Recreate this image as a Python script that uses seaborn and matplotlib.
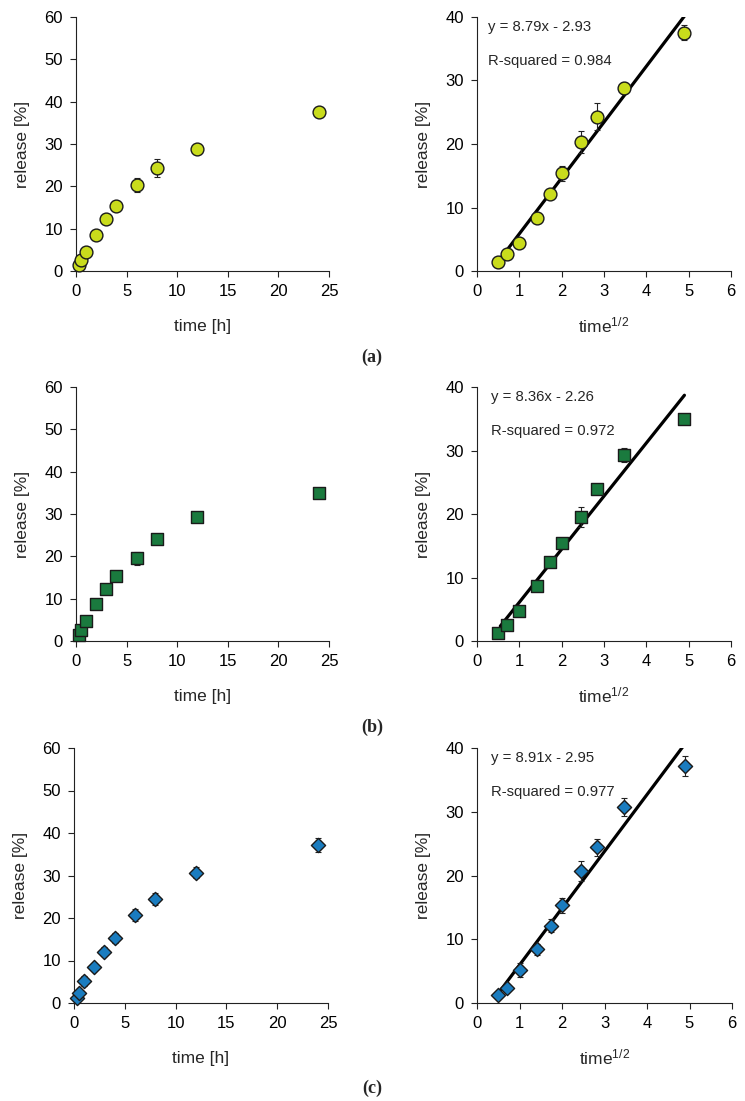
import numpy as np
import pandas as pd
import matplotlib
matplotlib.use("Agg")
import matplotlib.pyplot as plt
import seaborn as sns

sns.set_theme(style="ticks")
plt.rcParams['font.family'] = ['Liberation Sans', 'DejaVu Sans']
plt.rcParams['mathtext.fontset'] = 'custom'
plt.rcParams['mathtext.rm'] = 'Liberation Sans'
plt.rcParams['mathtext.it'] = 'Liberation Sans'

# ---- data ----
time_h = [0.25, 0.5, 1, 2, 3, 4, 6, 8, 12, 24]

release_a = [1.4, 2.6, 4.4, 8.4, 12.2, 15.4, 20.3, 24.3, 28.8, 37.5]
err_a = [0.3, 0.4, 0.6, 0.5, 0.5, 1.2, 1.7, 2.1, 1.0, 1.2]

release_b = [1.3, 2.5, 4.8, 8.7, 12.4, 15.4, 19.5, 24.0, 29.3, 35.0]
err_b = [0.3, 0.3, 0.4, 0.4, 0.4, 0.4, 1.6, 0.6, 1.1, 0.3]

release_c = [1.2, 2.3, 5.2, 8.4, 12.1, 15.3, 20.7, 24.4, 30.7, 37.2]
err_c = [0.3, 0.4, 1.1, 0.8, 1.0, 1.2, 1.5, 1.4, 1.4, 1.6]

slopes = [8.79, 8.36, 8.91]
intercepts = [-2.93, -2.26, -2.95]
r_squared = [0.984, 0.972, 0.977]
fit_range = [0.55, 4.9]

colors = ["#c9dc1c", "#1a7a3e", "#1a7cbf"]
markers = ["o", "s", "D"]
msizes = [85, 78, 52]
panel_labels = ["(a)", "(b)", "(c)"]

releases = [release_a, release_b, release_c]
errs = [err_a, err_b, err_c]

# ---- layout ----
W, H = 745, 1101
fig = plt.figure(figsize=(W / 100, H / 100), dpi=100)

def ax_at(l, r, t, b):
    return fig.add_axes([l / W, 1 - b / H, (r - l) / W, (b - t) / H])

rows = [(17, 271), (387, 641), (748, 1003)]
left_x = [(76, 329), (76, 329), (74, 328)]
right_x = [(477, 731), (477, 731), (477, 732)]
label_y = [357, 727, 1088]
eq_x = [0.043, 0.055, 0.055]

fs = 12

def style_ax(ax):
    sns.despine(ax=ax)
    ax.tick_params(axis='both', direction='out', length=4.5, width=0.8,
                   labelsize=fs, colors='#222222', labelcolor='black', pad=5)
    for s in ['left', 'bottom']:
        ax.spines[s].set_linewidth(0.8)
        ax.spines[s].set_color('#222222')

for i in range(3):
    t, b = rows[i]
    df = pd.DataFrame({"time": time_h, "sqrt_time": np.sqrt(time_h),
                       "release": releases[i], "err": errs[i]})

    # left panel
    axl = ax_at(left_x[i][0], left_x[i][1], t, b)
    axl.errorbar(df["time"], df["release"], yerr=df["err"], fmt='none',
                 ecolor='#222222', elinewidth=0.8, capsize=2.5, capthick=0.8, zorder=2)
    sns.scatterplot(data=df, x="time", y="release", ax=axl, marker=markers[i],
                    s=msizes[i], color=colors[i], edgecolor='#1a1a1a', linewidth=1.0,
                    zorder=3, clip_on=False)
    axl.set_xlim(0, 25)
    axl.set_ylim(0, 60)
    axl.set_xticks([0, 5, 10, 15, 20, 25])
    axl.set_yticks([0, 10, 20, 30, 40, 50, 60])
    axl.set_xlabel("time [h]", fontsize=fs + 0.5, labelpad=14)
    axl.set_ylabel("release [%]", fontsize=fs + 0.5, labelpad=10)
    style_ax(axl)

    # right panel
    axr = ax_at(right_x[i][0], right_x[i][1], t, b)
    xfit = np.array(fit_range)
    fit_df = pd.DataFrame({"x": xfit, "y": slopes[i] * xfit + intercepts[i]})
    sns.lineplot(data=fit_df, x="x", y="y", ax=axr, color='black', linewidth=2.3, zorder=1)
    axr.errorbar(df["sqrt_time"], df["release"], yerr=df["err"], fmt='none',
                 ecolor='#222222', elinewidth=0.8, capsize=2.5, capthick=0.8, zorder=2)
    sns.scatterplot(data=df, x="sqrt_time", y="release", ax=axr, marker=markers[i],
                    s=msizes[i], color=colors[i], edgecolor='#1a1a1a', linewidth=1.0,
                    zorder=3, clip_on=False)
    axr.set_xlim(0, 6)
    axr.set_ylim(0, 40)
    axr.set_xticks(range(0, 7))
    axr.set_yticks([0, 10, 20, 30, 40])
    axr.set_xlabel("time$^{1/2}$", fontsize=fs + 0.5, labelpad=12)
    axr.set_ylabel("release [%]", fontsize=fs + 0.5, labelpad=10)
    sign = "-" if intercepts[i] < 0 else "+"
    axr.text(eq_x[i], 0.96, f"y = {slopes[i]:.2f}x {sign} {abs(intercepts[i]):.2f}",
             transform=axr.transAxes, fontsize=10.7, va='center', ha='left')
    axr.text(eq_x[i], 0.827, f"R-squared = {r_squared[i]:.3f}",
             transform=axr.transAxes, fontsize=10.7, va='center', ha='left')
    style_ax(axr)

    fig.text(372 / W, 1 - label_y[i] / H, panel_labels[i], ha='center', va='center',
             fontsize=13, fontweight='bold', family=['Liberation Serif', 'DejaVu Serif'])

fig.savefig("out.png", dpi=100, facecolor='white')
